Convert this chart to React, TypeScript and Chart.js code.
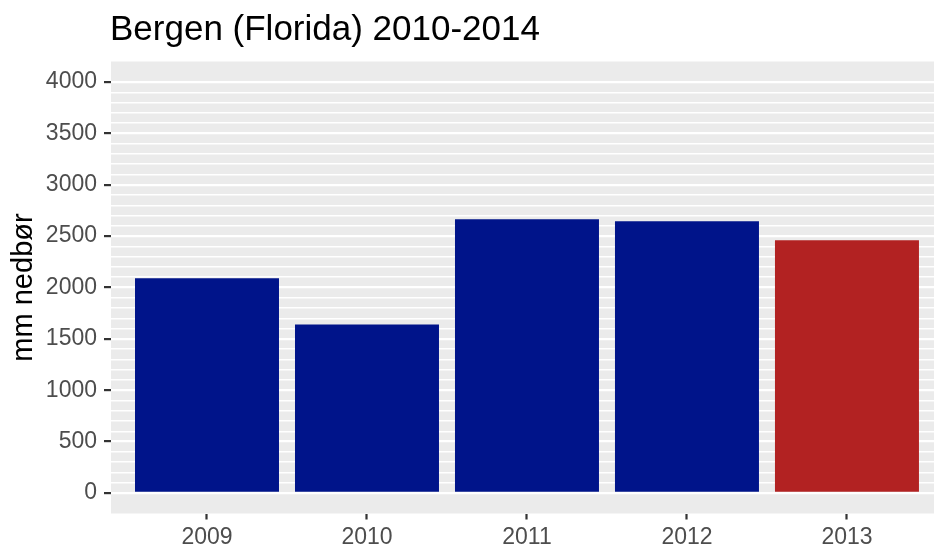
import React, { useEffect, useRef } from "react";
import { Chart, registerables } from "chart.js";

Chart.register(...registerables);

const categories = ["2009", "2010", "2011", "2012", "2013"];
const precipitation = [2090, 1640, 2665, 2645, 2460];
const barColors = ["#00148A", "#00148A", "#00148A", "#00148A", "#B22222"];
const yTickLabels = [0, 500, 1000, 1500, 2000, 2500, 3000, 3500, 4000];
const chartTitle = "Bergen (Florida) 2010-2014";
const yAxisTitle = "mm nedbør";

const FONT = '"Liberation Sans", Arial, Helvetica, sans-serif';

export default function App() {
  const ref = useRef<HTMLCanvasElement | null>(null);

  useEffect(() => {
    if (!ref.current) return;
    const yMin = -200;
    const yMax = 4200;
    const gridStep = 100;
    const gridValues: number[] = [];
    for (let v = yTickLabels[0]; v <= yTickLabels[yTickLabels.length - 1]; v += gridStep) gridValues.push(v);
    const isMajor = (v: number) => yTickLabels.includes(v);

    const panelPlugin = {
      id: "panel",
      beforeDraw(chart: any) {
        const { ctx, chartArea } = chart;
        ctx.save();
        ctx.fillStyle = "#EBEBEB";
        ctx.fillRect(chartArea.left, chartArea.top, chartArea.right - chartArea.left, chartArea.bottom - chartArea.top);
        ctx.restore();
      },
      afterDraw(chart: any) {
        const { ctx, chartArea } = chart;
        ctx.save();
        ctx.fillStyle = "#000000";
        ctx.textBaseline = "alphabetic";
        ctx.textAlign = "left";
        ctx.font = `35px ${FONT}`;
        ctx.fillText(chartTitle, chartArea.left - 1, 39.5);
        ctx.translate(32, (chartArea.top + chartArea.bottom) / 2);
        ctx.rotate(-Math.PI / 2);
        ctx.textAlign = "center";
        ctx.font = `29px ${FONT}`;
        ctx.fillText(yAxisTitle, 0, 0);
        ctx.restore();
      },
    };

    const chart = new Chart(ref.current, {
      type: "bar",
      data: {
        datasets: [
          {
            data: precipitation.map((v, i) => ({ x: i, y: v })),
            backgroundColor: barColors,
            borderWidth: 0,
            barPercentage: 0.9,
            categoryPercentage: 1,
          },
        ],
      },
      options: {
        animation: false,
        responsive: false,
        devicePixelRatio: 1,
        layout: { padding: { top: 61.5, left: 0, right: 0, bottom: 0 } },
        plugins: {
          legend: { display: false },
          title: { display: false },
          tooltip: { enabled: false },
        },
        scales: {
          x: {
            type: "linear",
            offset: false,
            min: -0.6,
            max: 4.544,
            afterFit(scale: any) {
              scale.height = 36.5;
            },
            afterBuildTicks(scale: any) {
              scale.ticks = categories.map((_, i) => ({ value: i }));
            },
            border: { display: false },
            grid: {
              display: true,
              offset: false,
              drawOnChartArea: false,
              drawTicks: true,
              tickLength: 6,
              tickColor: "#333333",
              tickWidth: 2.2,
            },
            ticks: {
              autoSkip: false,
              maxRotation: 0,
              padding: 4,
              color: "#4D4D4D",
              font: { family: FONT, size: 23 },
              callback: (v: any) => categories[Math.round(Number(v))] ?? "",
            },
          },
          y: {
            type: "linear",
            min: yMin,
            max: yMax,
            afterFit(scale: any) {
              scale.width = 111;
            },
            afterBuildTicks(scale: any) {
              scale.ticks = gridValues.map((v) => ({ value: v }));
            },
            border: { display: false },
            grid: {
              display: true,
              drawOnChartArea: true,
              drawTicks: true,
              tickLength: 7,
              color: "#FFFFFF",
              lineWidth: (c: any) => (isMajor(c.tick?.value) ? 2.2 : 1.5),
              tickColor: (c: any) => (isMajor(c.tick?.value) ? "#333333" : "rgba(0,0,0,0)"),
              tickWidth: 2.2,
            },
            ticks: {
              autoSkip: false,
              padding: 7,
              color: "#4D4D4D",
              font: { family: FONT, size: 23 },
              callback: (v: any) => (isMajor(Number(v)) ? String(v) : ""),
            },
          },
        },
      },
      plugins: [panelPlugin],
    } as any);

    return () => chart.destroy();
  }, []);

  return (
    <div style={{ position: "fixed", left: 0, top: 0, width: 934, height: 550, background: "#FFFFFF" }}>
      <canvas ref={ref} width={934} height={550} style={{ width: 934, height: 550, display: "block" }} />
    </div>
  );
}
